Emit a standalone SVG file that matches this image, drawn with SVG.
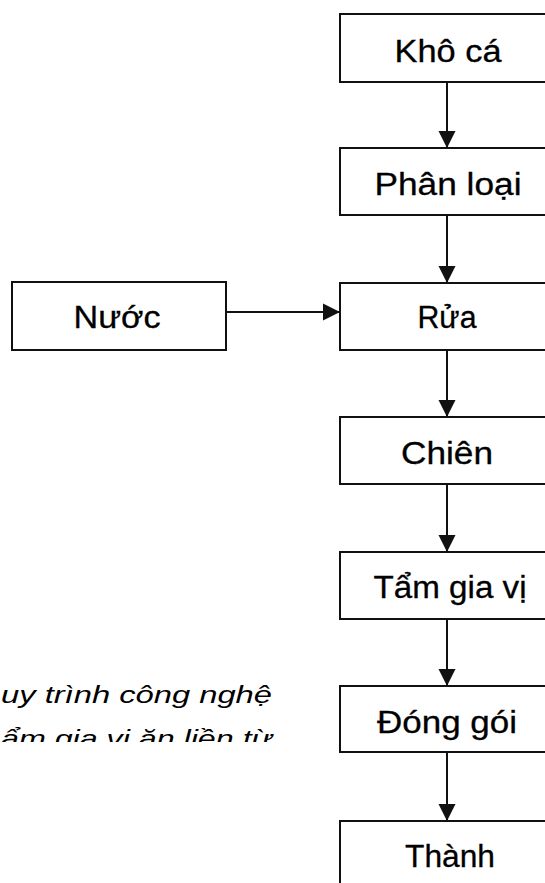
<svg xmlns="http://www.w3.org/2000/svg" width="545" height="883" viewBox="0 0 545 883">
<style>
.box{fill:#fff;stroke:#111;stroke-width:2}
.lbl{font-family:"Liberation Sans",Arial,sans-serif;font-size:31px;fill:#000;stroke:#000;stroke-width:0.3;text-anchor:middle}
.cap{font-family:"Liberation Sans",Arial,sans-serif;font-size:24px;font-style:italic;fill:#000}
.edge{stroke:#111;stroke-width:2;fill:none;marker-end:url(#ah)}
</style>
<defs>
<marker id="ah" markerUnits="userSpaceOnUse" markerWidth="18" markerHeight="18" viewBox="0 0 18 18" refX="17" refY="9" orient="auto">
<path d="M0,0.5 L17,9 L0,17.5 Z" fill="#111"/>
</marker>
<clipPath id="capclip"><rect x="0" y="660" width="340" height="82"/></clipPath>
</defs>
<rect width="545" height="883" fill="#fff"/>
<g id="connectors">
<line class="edge" x1="447" y1="82" x2="447" y2="148"/>
<line class="edge" x1="447" y1="215" x2="447" y2="283"/>
<line class="edge" x1="226" y1="312" x2="340" y2="312"/>
<line class="edge" x1="447" y1="350" x2="447" y2="417"/>
<line class="edge" x1="447" y1="484" x2="447" y2="552"/>
<line class="edge" x1="447" y1="619" x2="447" y2="686"/>
<line class="edge" x1="447" y1="752" x2="447" y2="821"/>
</g>
<g id="kho-ca"><rect class="box" x="340" y="14" width="220" height="68"/><text class="lbl" x="448" y="62" textLength="107" lengthAdjust="spacingAndGlyphs">Khô cá</text></g>
<g id="phan-loai"><rect class="box" x="340" y="148" width="220" height="67"/><text class="lbl" x="448" y="195" textLength="147" lengthAdjust="spacingAndGlyphs">Phân loại</text></g>
<g id="nuoc"><rect class="box" x="12" y="282" width="214" height="68"/><text class="lbl" x="117" y="328" textLength="87" lengthAdjust="spacingAndGlyphs">Nước</text></g>
<g id="rua"><rect class="box" x="340" y="283" width="220" height="67"/><text class="lbl" x="447" y="328" textLength="59" lengthAdjust="spacingAndGlyphs">Rửa</text></g>
<g id="chien"><rect class="box" x="340" y="417" width="220" height="67"/><text class="lbl" x="447" y="464" textLength="92" lengthAdjust="spacingAndGlyphs">Chiên</text></g>
<g id="tam-gia-vi"><rect class="box" x="340" y="552" width="220" height="67"/><text class="lbl" x="450" y="598" textLength="153" lengthAdjust="spacingAndGlyphs">Tẩm gia vị</text></g>
<g id="dong-goi"><rect class="box" x="340" y="686" width="220" height="66"/><text class="lbl" x="447" y="733" textLength="140" lengthAdjust="spacingAndGlyphs">Đóng gói</text></g>
<g id="thanh"><rect class="box" x="340" y="821" width="220" height="80"/><text class="lbl" x="450" y="867" textLength="90" lengthAdjust="spacingAndGlyphs">Thành</text></g>
<g id="caption" clip-path="url(#capclip)">
<text class="cap" x="1" y="703" textLength="271" lengthAdjust="spacingAndGlyphs">uy trình công nghệ</text>
<text class="cap" x="1" y="747" textLength="271" lengthAdjust="spacingAndGlyphs">ẩm gia vị ăn liền từ</text>
</g>
</svg>
